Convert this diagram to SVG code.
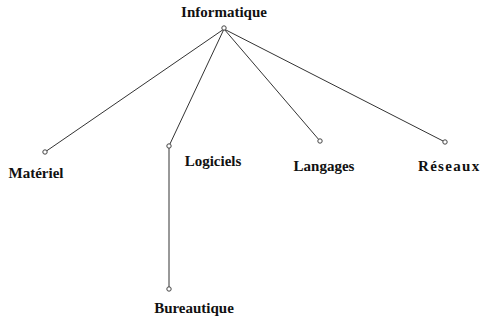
<svg xmlns="http://www.w3.org/2000/svg" width="486" height="321" viewBox="0 0 486 321">
<style>
.lbl{font-family:"Liberation Serif","Times New Roman",serif;font-weight:bold;font-size:15px;fill:#111}
.edge{stroke:#333;stroke-width:1;fill:none}
.dot{fill:#fff;stroke:#444;stroke-width:1}
</style>
<rect width="486" height="321" fill="#fff"/>
<g id="connectors">
<line class="edge" x1="224" y1="29" x2="45" y2="152"/>
<line class="edge" x1="224" y1="29" x2="169" y2="146"/>
<line class="edge" x1="224" y1="29" x2="320" y2="141"/>
<line class="edge" x1="224" y1="29" x2="445" y2="142"/>
<line class="edge" x1="169" y1="146" x2="169" y2="289"/>
</g>
<g id="informatique"><circle class="dot" cx="224" cy="28" r="2.2"/><text class="lbl" x="224" y="17" text-anchor="middle">Informatique</text></g>
<g id="materiel"><circle class="dot" cx="45" cy="152" r="2.2"/><text class="lbl" x="36" y="178" text-anchor="middle">Matériel</text></g>
<g id="logiciels"><circle class="dot" cx="169" cy="146" r="2.2"/><text class="lbl" x="213" y="166" text-anchor="middle">Logiciels</text></g>
<g id="langages"><circle class="dot" cx="320" cy="141" r="2.2"/><text class="lbl" x="324" y="171" text-anchor="middle">Langages</text></g>
<g id="reseaux"><circle class="dot" cx="445" cy="142" r="2.2"/><text class="lbl" x="418" y="171" letter-spacing="1.3">Réseaux</text></g>
<g id="bureautique"><circle class="dot" cx="169" cy="289" r="2.2"/><text class="lbl" x="194" y="313" text-anchor="middle">Bureautique</text></g>
</svg>
